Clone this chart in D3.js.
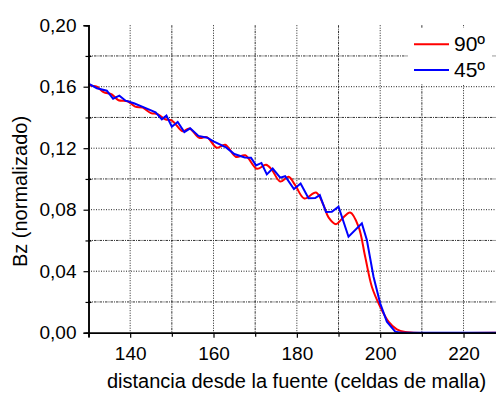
<!DOCTYPE html>
<html>
<head>
<meta charset="utf-8">
<script src="https://cdn.jsdelivr.net/npm/d3@7/dist/d3.min.js"></script>
<style>
  html, body { margin: 0; padding: 0; background: #fff; }
  svg { display: block; }
  text { font-family: "Liberation Sans", Arial, sans-serif; fill: #000; }
</style>
</head>
<body>
<svg id="chart" width="496" height="394"></svg>
<script>
// Bz field along the propagation axis, for two source orientations
const dist90 = [130, 132, 133.6, 135.6, 137.2, 139.4, 141.2, 143, 145, 146.6, 148.4, 150, 152.6, 154.2, 156.6, 158.4, 160.8, 162.8, 165.4, 167.6, 170.4, 172.6, 174, 176, 178, 179.6, 181.8, 184.6, 186.4, 187.6, 189.4, 190.8, 192.8, 194.8, 196.4, 198, 200, 202, 204, 206, 208, 230];
const bz90   = [0.1608, 0.1600, 0.1565, 0.1550, 0.1512, 0.1505, 0.1470, 0.1464, 0.1428, 0.1422, 0.1388, 0.1380, 0.1310, 0.1328, 0.1268, 0.1272, 0.1203, 0.1222, 0.1143, 0.1154, 0.1066, 0.1092, 0.1060, 0.0983, 0.1014, 0.0960, 0.0873, 0.0912, 0.0830, 0.0750, 0.0706, 0.0740, 0.0782, 0.0690, 0.0494, 0.0299, 0.0169, 0.0072, 0.0022, 0.0004, 0, 0];

const dist45 = [130, 132, 134.4, 135.9, 137.4, 138.9, 140.9, 143.3, 146.1, 147.6, 148.7, 150, 151.4, 153, 154.4, 156.4, 158.5, 160, 163, 165, 167.5, 169, 170.2, 171.5, 172.8, 174.2, 176, 177.2, 179.3, 180.9, 182.8, 184.4, 185.5, 187, 188.4, 190, 192.4, 195.6, 196.8, 198.4, 200, 201.6, 203.6, 205, 230];
const bz45   = [0.1620, 0.1590, 0.1574, 0.1522, 0.1542, 0.1509, 0.1492, 0.1466, 0.1433, 0.1388, 0.1412, 0.1340, 0.1370, 0.1305, 0.1329, 0.1280, 0.1268, 0.1245, 0.1205, 0.1162, 0.1140, 0.1138, 0.1088, 0.1104, 0.1030, 0.1068, 0.1008, 0.1018, 0.0935, 0.0970, 0.0874, 0.0876, 0.0895, 0.0785, 0.0786, 0.0820, 0.0624, 0.0711, 0.0603, 0.0364, 0.0191, 0.0072, 0.0007, 0, 0];

const seriesNames = ["90º", "45º"];
const seriesColors = ["#ff0000", "#0000ff"];

const xMajorTicks = [140, 160, 180, 200, 220];
const xMinorTicks = [130, 150, 170, 190, 210, 230];
const yMajorTicks = [0, 0.04, 0.08, 0.12, 0.16, 0.20];
const yMinorTicks = [0.02, 0.06, 0.10, 0.14, 0.18];

const xTitle = "distancia desde la fuente (celdas de malla)";
const yTitle = "Bz (normalizado)";

const svg = d3.select("#chart");
const plotLeft = 88.5, plotTop = 25.2, plotBottom = 332.7;

const x = d3.scaleLinear().domain([130, 230]).range([plotLeft, plotLeft + 416.7]);
const y = d3.scaleLinear().domain([0, 0.20]).range([plotBottom, plotTop]);
const fmt = d => d3.format(".2f")(d).replace(".", ",");

// grid: dotted on major steps, dash-dot on minor steps
const grid = svg.append("g");
grid.selectAll(".hmaj").data(yMajorTicks.filter(v => v > 0 && v < 0.2)).join("line")
  .attr("x1", plotLeft).attr("x2", 496).attr("y1", d => y(d)).attr("y2", d => y(d))
  .attr("stroke", "#222").attr("stroke-dasharray", "1,1.5").attr("stroke-width", 1);
grid.selectAll(".hmin").data(yMinorTicks).join("line")
  .attr("x1", plotLeft).attr("x2", 496).attr("y1", d => y(d)).attr("y2", d => y(d))
  .attr("stroke", "#333").attr("stroke-dasharray", "2.5,1,1,1").attr("stroke-width", 1);
grid.selectAll(".vmaj").data(xMajorTicks).join("line")
  .attr("x1", d => x(d)).attr("x2", d => x(d)).attr("y1", plotTop).attr("y2", plotBottom)
  .attr("stroke", "#222").attr("stroke-dasharray", "1,1.5").attr("stroke-width", 1);
grid.selectAll(".vmin").data(xMinorTicks.filter(v => v > 130)).join("line")
  .attr("x1", d => x(d)).attr("x2", d => x(d)).attr("y1", plotTop).attr("y2", plotBottom)
  .attr("stroke", "#333").attr("stroke-dasharray", "2.5,1,1,1").attr("stroke-width", 1);

// curves
const line90 = d3.line().x((d, i) => x(dist90[i])).y(d => y(d)).curve(d3.curveCatmullRom.alpha(0.5));
const line45 = d3.line().x((d, i) => x(dist45[i])).y(d => y(d));
svg.append("path").attr("d", line90(bz90)).attr("fill", "none")
  .attr("stroke", seriesColors[0]).attr("stroke-width", 2);
svg.append("path").attr("d", line45(bz45)).attr("fill", "none")
  .attr("stroke", seriesColors[1]).attr("stroke-width", 2);

// axes
svg.append("g").attr("transform", `translate(0,${plotBottom})`)
  .call(d3.axisBottom(x).tickValues(xMajorTicks).tickSize(5).tickPadding(9).tickFormat(d3.format("d")));
svg.append("g").attr("transform", `translate(0,${plotBottom})`)
  .call(d3.axisBottom(x).tickValues(xMinorTicks).tickSize(4).tickFormat(""));
svg.append("g").attr("transform", `translate(${plotLeft},0)`)
  .call(d3.axisLeft(y).tickValues(yMajorTicks).tickSize(5).tickPadding(7).tickFormat(fmt));
svg.append("g").attr("transform", `translate(${plotLeft},0)`)
  .call(d3.axisLeft(y).tickValues(yMinorTicks).tickSize(3).tickFormat(""))
  .selectAll(".tick line").attr("x2", 3).attr("x1", -3);
svg.selectAll(".domain").attr("stroke", "#000").attr("stroke-width", 1.5);
svg.selectAll(".tick line").attr("stroke", "#000").attr("stroke-width", 1.2);
svg.selectAll(".tick text").style("font-size", "19px").style("font-family", "Liberation Sans, Arial, sans-serif");

// titles
svg.append("text").attr("x", 296.5).attr("y", 388).attr("text-anchor", "middle")
  .style("font-size", "20px").text(xTitle);
svg.append("text").attr("transform", "translate(27,191.5) rotate(-90)").attr("text-anchor", "middle")
  .style("font-size", "20px").text(yTitle);

// legend
const lg = svg.append("g");
lg.append("rect").attr("x", 408).attr("y", 28).attr("width", 84).attr("height", 56).attr("fill", "#fff");
seriesNames.forEach((name, i) => {
  const ly = 44.3 + i * 25.7;
  lg.append("line").attr("x1", 414).attr("x2", 449).attr("y1", ly).attr("y2", ly)
    .attr("stroke", seriesColors[i]).attr("stroke-width", 2);
  lg.append("text").attr("x", 454).attr("y", ly + 7).style("font-size", "21px").text(name);
});
</script>
</body>
</html>
